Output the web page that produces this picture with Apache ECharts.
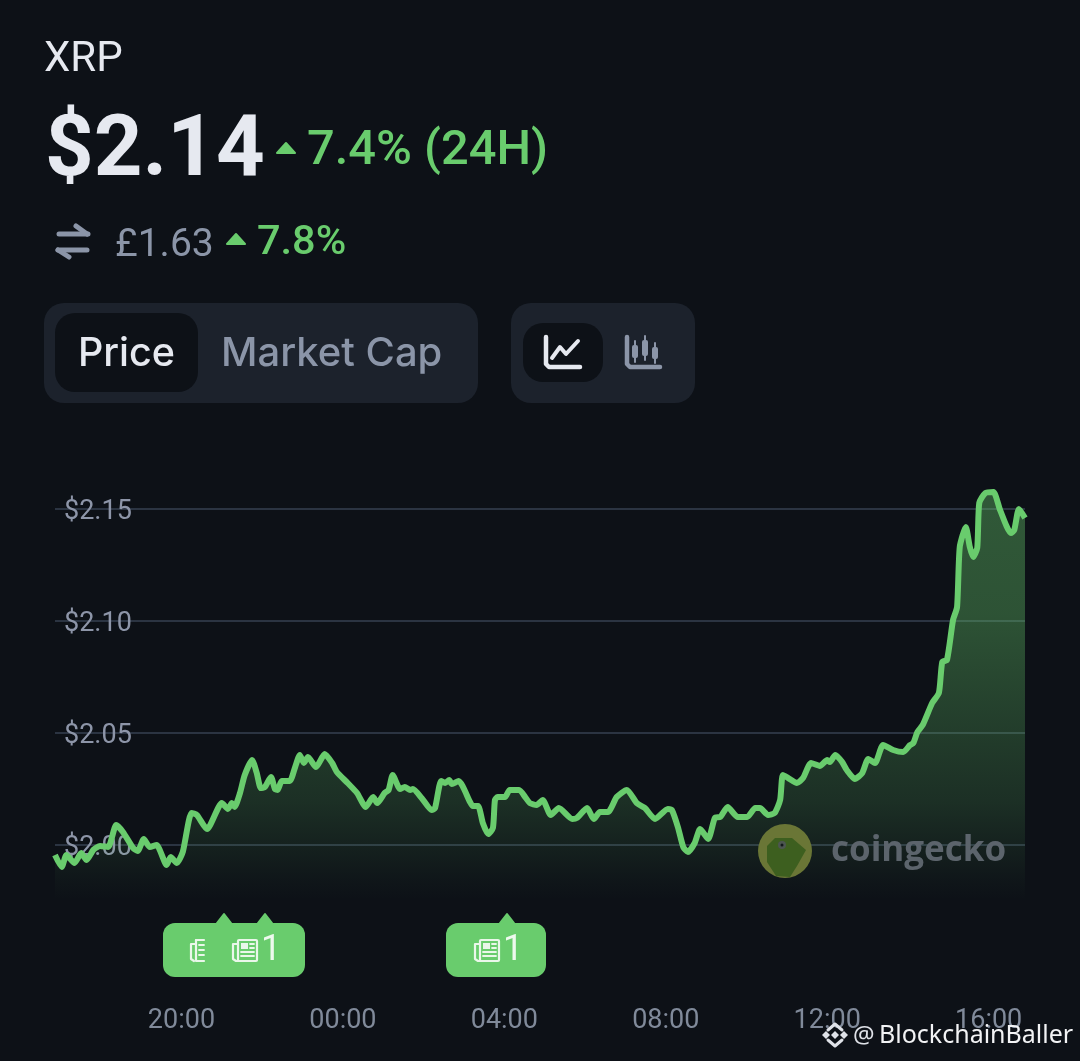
<!DOCTYPE html>
<html><head><meta charset="utf-8">
<style>html,body{margin:0;padding:0;background:#0d1117}#c{width:1080px;height:1061px}</style>
<script src="https://cdn.jsdelivr.net/npm/echarts@6/dist/echarts.min.js"></script>
</head><body><div id="c"></div>
<script>
// minutes relative to 00:00 (negative = previous evening)
var minutes = [-428,-418,-411,-399,-389,-381,-371,-361,-349,-337,-327,-312,-305,-296,-287,-277,-262,-256,-247,-238,-225,-217,-202,-180,-171,-165,-161,-153,-146,-135,-128,-122,-116,-107,-101,-97,-91,-79,-71,-64,-58,-52,-40,-27,-16,-9,7,21,34,45,51,62,68,74,85,92,100,104,117,132,137,146,152,158,162,172,189,193,201,208,216,223,226,230,241,248,262,271,278,288,297,309,321,341,348,363,373,382,394,407,422,437,449,464,483,489,498,506,513,523,531,543,553,561,572,587,601,613,620,632,642,650,654,662,675,684,696,709,720,724,732,742,749,761,772,781,791,803,818,833,843,848,854,862,876,886,891,898,907,913,917,926,932,937,943,946,955,967,977,993,998,1005,1014];
var prices = [1.9955,1.9902,1.9955,1.9920,1.9964,1.9933,1.9978,1.9996,1.9991,2.0089,2.0058,1.9987,1.9973,2.0027,1.9991,2.0000,1.9911,1.9946,1.9920,1.9969,2.0143,2.0134,2.0071,2.0187,2.0161,2.0187,2.0170,2.0232,2.0312,2.0379,2.0321,2.0254,2.0259,2.0304,2.0250,2.0246,2.0286,2.0286,2.0348,2.0402,2.0366,2.0393,2.0348,2.0406,2.0366,2.0326,2.0277,2.0232,2.0170,2.0214,2.0187,2.0232,2.0246,2.0312,2.0250,2.0259,2.0246,2.0250,2.0210,2.0156,2.0165,2.0286,2.0277,2.0290,2.0272,2.0286,2.0192,2.0174,2.0174,2.0098,2.0049,2.0076,2.0201,2.0214,2.0214,2.0246,2.0246,2.0214,2.0187,2.0179,2.0201,2.0134,2.0165,2.0116,2.0121,2.0165,2.0116,2.0147,2.0147,2.0214,2.0246,2.0187,2.0165,2.0116,2.0161,2.0156,2.0080,1.9991,1.9969,2.0009,2.0071,2.0027,2.0121,2.0125,2.0170,2.0125,2.0125,2.0165,2.0165,2.0134,2.0143,2.0201,2.0312,2.0299,2.0277,2.0299,2.0366,2.0353,2.0379,2.0371,2.0402,2.0371,2.0335,2.0295,2.0321,2.0384,2.0366,2.0446,2.0424,2.0415,2.0446,2.0455,2.0504,2.0536,2.0634,2.0679,2.0817,2.0826,2.1004,2.1062,2.1330,2.1420,2.1330,2.1286,2.1326,2.1527,2.1571,2.1576,2.1495,2.1393,2.1406,2.1500,2.1460];
var timeTicks = [-240,0,240,480,720,960];
var timeLabels = ['20:00','00:00','04:00','08:00','12:00','16:00'];

var BG='#0d1117',PANEL='#1c222c',GREEN='#69cc6d',GREY='#8b95a8',WHITE='#e6e9f0';
var g=[];
function txt(x,y,t,font,fill,align,op){g.push({type:'text',silent:true,z:20,style:{x:x,y:y,text:t,font:font,fill:fill,textAlign:align||'left',textVerticalAlign:'middle',opacity:op==null?1:op}});}
function box(x,y,w,h,r,fill,z){g.push({type:'rect',silent:true,z:z||10,shape:{x:x,y:y,width:w,height:h,r:r},style:{fill:fill}});}
function poly(pts,fill,z,op,stroke,lw){g.push({type:'polygon',silent:true,z:z||21,shape:{points:pts},style:{fill:fill,opacity:op==null?1:op,stroke:stroke||null,lineWidth:lw||0,lineJoin:'round'}});}
function line(pts,color,lw,z,op){g.push({type:'polyline',silent:true,z:z||21,shape:{points:pts},style:{stroke:color,lineWidth:lw,fill:null,lineCap:'round',lineJoin:'round',opacity:op==null?1:op}});}
function tri(cx,base,top,hw){poly([[cx-hw,base],[cx,top],[cx+hw,base]],GREEN,21,1,GREEN,2);}

// header
txt(44,60,'XRP','400 42px Roboto',WHITE);
txt(45,154,'$2.14','700 85px Roboto',WHITE);
tri(286,153,143,9);
txt(307,152,'7.4% (24H)','500 48.8px Roboto',GREEN);
line([[59,234],[88,234]],GREY,5);line([[76,226],[87,234]],GREY,5);
line([[58,250],[87,250]],GREY,5);line([[69,257],[58,250]],GREY,5);
txt(115,246,'£1.63','400 39px Roboto',GREY);
tri(236,244,234,9);
txt(257,244,'7.8%','500 41.5px Roboto',GREEN);

// tabs
box(44,303,434,100,20,PANEL);box(55,313,143,79,20,BG,11);
txt(78,354,'Price','500 39.5px Inter',WHITE);
txt(221,354,'Market Cap','500 40px Inter',GREY);
box(511,303,184,100,20,PANEL);box(523,323,80,59,20,BG,11);
line([[546,337],[546,364],[549,367],[580,367]],WHITE,4.5);
line([[552,358],[560,347],[566,354],[578,341]],WHITE,4);
line([[627,337],[627,364],[630,367],[660,367]],GREY,4.5);
[[635,345,358],[645,340,356],[655,347,359]].forEach(function(c){
  line([[c[0],c[1]-4],[c[0],c[2]+4]],GREY,2);box(c[0]-3,c[1],6,c[2]-c[1],2,GREY,21);
});

// news badges
var INK='#eaf7ea';
function news(x,y,clip){
  if(!clip){
    g.push({type:'rect',silent:true,z:22,shape:{x:x+6,y:y-10,width:19,height:21,r:1},style:{fill:null,stroke:INK,lineWidth:2.2}});
    box(x+9,y-7,7,6,0,INK,22);
    line([[x+18,y-6],[x+22,y-6]],INK,1.8,22);line([[x+18,y-2],[x+22,y-2]],INK,1.8,22);
    line([[x+9,y+2],[x+22,y+2]],INK,1.8,22);line([[x+9,y+6],[x+22,y+6]],INK,1.8,22);
    line([[x+6,y-6],[x+1,y-6],[x+1,y+9],[x+4,y+11],[x+8,y+11]],INK,2.2,22);
  } else {
    line([[x+6,y-10],[x+14,y-10]],INK,2.2,22);line([[x+6,y-10],[x+6,y+11],[x+14,y+11]],INK,2.2,22);
    line([[x+9,y-5],[x+14,y-5]],INK,1.8,22);line([[x+9,y],[x+14,y]],INK,1.8,22);line([[x+9,y+5],[x+14,y+5]],INK,1.8,22);
    line([[x+6,y-6],[x+1,y-6],[x+1,y+9],[x+4,y+11]],INK,2.2,22);
  }
}
box(163,923,142,54,12,GREEN,20);box(446,923,100,54,12,GREEN,20);
tri(224,923,914,7);tri(265,923,914,7);tri(507,923,914,7);
news(190,950,true);news(232,950,false);news(474,950,false);
txt(271,951,'1','400 36px Roboto','#eef9ee','center');
txt(513,951,'1','400 36px Roboto','#eef9ee','center');

// coingecko watermark
g.push({type:'circle',silent:true,z:15,shape:{cx:785,cy:851,r:27},style:{fill:'#6a7636'}});
poly([[767,846],[775,838],[792,838],[806,850],[797,866],[790,877],[776,876],[767,862]],'#3d5f1f',16);
g.push({type:'circle',silent:true,z:17,shape:{cx:782,cy:845,r:4},style:{fill:'#4c5550'}});
g.push({type:'circle',silent:true,z:18,shape:{cx:782,cy:845,r:1.5},style:{fill:'#12181a'}});
txt(831,851,'coingecko','700 35px "Open Sans"','#5c646c');

// source stamp
[[826,1035],[835,1035],[844,1035]].forEach(function(p){
  poly([[p[0]-4,p[1]],[p[0],p[1]-4],[p[0]+4,p[1]],[p[0],p[1]+4]],'#dfe2e8',30);
});
line([[828,1030],[835,1024],[842,1030]],'#dfe2e8',3,30);
line([[828,1040],[835,1046],[842,1040]],'#dfe2e8',3,30);
txt(853,1036,'@','400 24px "Noto Sans"','#dfe2e8');
txt(879,1036,'BlockchainBaller','400 25px "Noto Sans"','#f2f3f5');

var opt={
  backgroundColor:BG,animation:false,
  grid:{left:55,right:55,top:397,bottom:104},
  xAxis:{type:'value',min:-428,max:1014,
    splitLine:{show:false},axisLine:{show:false},axisTick:{show:false},
    axisLabel:{customValues:timeTicks,margin:51,color:'#808a9a',fontFamily:'Roboto',fontSize:27,
      formatter:function(v){return timeLabels[timeTicks.indexOf(v)];}}},
  yAxis:{type:'value',min:1.95,max:2.2,interval:0.05,
    axisLine:{show:false},axisTick:{show:false},
    splitLine:{show:true,showMinLine:false,showMaxLine:false,lineStyle:{color:'#2b3442',width:2}},
    axisLabel:{inside:true,margin:9,showMinLabel:false,showMaxLabel:false,color:'#8d95a8',fontFamily:'Roboto',fontSize:27,align:'left',verticalAlign:'top',lineHeight:6,
      formatter:function(v){return '$'+v.toFixed(2);}}},
  series:[{type:'line',data:minutes.map(function(m,i){return [m,prices[i]];}),
    showSymbol:false,smooth:0.2,
    lineStyle:{color:GREEN,width:6,join:'round'},
    areaStyle:{origin:1.9755,color:{type:'linear',x:0,y:0,x2:0,y2:1,colorStops:[
      {offset:0,color:'rgba(105,204,109,0.55)'},{offset:0.3,color:'rgba(105,204,109,0.5)'},
      {offset:0.76,color:'rgba(105,204,109,0.23)'},{offset:0.95,color:'rgba(105,204,109,0.04)'},{offset:1,color:'rgba(105,204,109,0)'}]}}}],
  graphic:{elements:g}
};
echarts.init(document.getElementById('c')).setOption(opt);
</script></body></html>
